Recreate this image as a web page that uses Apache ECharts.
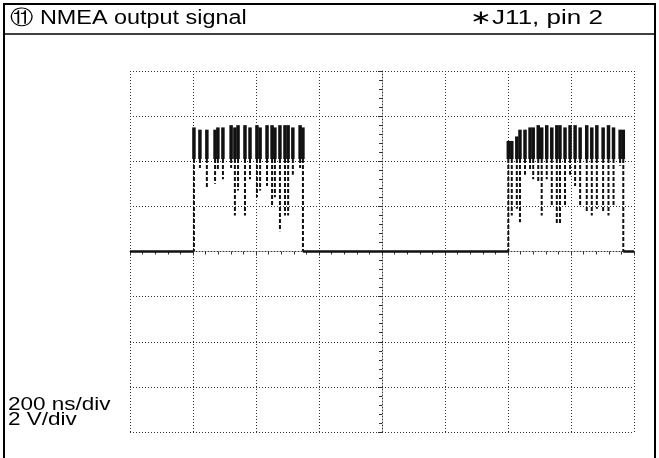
<!DOCTYPE html>
<html>
<head>
<meta charset="utf-8">
<script src="https://cdn.jsdelivr.net/npm/echarts@6/dist/echarts.min.js"></script>
<style>
  html, body { margin: 0; padding: 0; background: #fff; }
  #scope { width: 659px; height: 458px; }
</style>
</head>
<body>
<div id="scope"></div>
<script>
// time in ns (200 ns/div), level in V (2 V/div)
const timeTicks = [0, 200, 400, 600, 800, 1000, 1200, 1400, 1600];
const voltTicks = [-8, -6, -4, -2, 0, 2, 4, 6, 8];

// idle line segments (low level)
const idleTime = [0, 200, null, 549, 1201, null, 1566, 1600];
const idleVolt = [0, 0, null, 0, 0, null, 0, 0];

// first burst: one entry per pulse column
const burst1Time = [203, 222, 244, 270, 279, 295, 321, 333, 343, 365, 381, 403, 413, 435, 451, 460, 476, 492, 502, 517, 540, 549];
const burst1Top  = [5.5, 5.4, 5.4, 5.4, 5.5, 5.5, 5.6, 5.5, 5.6, 5.6, 5.5, 5.6, 5.5, 5.6, 5.6, 5.5, 5.6, 5.6, 5.6, 5.5, 5.6, 5.5];
const burst1Low  = [0, 3.7, 2.8, 3.0, 3.6, 3.2, 3.7, 1.6, 2.7, 1.6, 3.2, 2.4, 2.7, 2.9, 2.0, 2.4, 0.9, 1.6, 1.6, 3.4, 3.7, 0];

// second burst
const burst2Time = [1201, 1212, 1228, 1238, 1254, 1270, 1280, 1296, 1307, 1323, 1339, 1355, 1365, 1381, 1397, 1413, 1429, 1450, 1466, 1482, 1502, 1519, 1535, 1556, 1566];
const burst2Top  = [4.9, 4.9, 5.1, 5.4, 5.4, 5.5, 5.5, 5.6, 5.5, 5.6, 5.5, 5.6, 5.6, 5.5, 5.6, 5.6, 5.5, 5.6, 5.5, 5.6, 5.5, 5.6, 5.5, 5.4, 5.4];
const burst2Low  = [0, 1.6, 1.9, 1.3, 3.4, 3.6, 3.2, 3.1, 1.6, 3.2, 2.0, 1.2, 1.2, 2.0, 3.4, 2.9, 2.0, 1.8, 1.6, 1.9, 1.8, 1.6, 2.0, 3.8, 0];

const denseLevel = 4.1;
const ink = '#111';
const gridInk = '#333';
const headFont = '20px "Liberation Sans", Arial, sans-serif';

function zip3(a, b, c) {
  return a.map((v, i) => [v, b[i], c[i]]);
}
const idleData = idleTime.map((t, i) => t === null ? ['-', '-'] : [t, idleVolt[i]]);
const pulseData = zip3(burst1Time, burst1Top, burst1Low).concat(zip3(burst2Time, burst2Top, burst2Low));

function renderPulse(params, api) {
  const t = api.value(0), top = api.value(1), low = api.value(2);
  const pTop = api.coord([t, top]);
  const pMid = api.coord([t, Math.max(low, Math.min(denseLevel, top))]);
  const pLow = api.coord([t, low]);
  return {
    type: 'group',
    children: [
      { type: 'line', shape: { x1: pTop[0], y1: pTop[1], x2: pMid[0], y2: pMid[1] },
        style: { stroke: ink, lineWidth: 3.5 } },
      { type: 'line', shape: { x1: pMid[0], y1: pMid[1], x2: pLow[0], y2: pLow[1] },
        style: { stroke: ink, lineWidth: 2, lineDash: [4, 2] } }
    ]
  };
}

const dotted = { color: gridInk, width: 1, type: [1, 2] };

let elm = document.getElementById('scope');
let myChart = echarts.init(elm);
myChart.setOption({
  animation: false,
  backgroundColor: '#fff',
  grid: { left: 130, right: 25, top: 71, bottom: 26 },
  xAxis: {
    type: 'value',
    min: timeTicks[0], max: timeTicks[timeTicks.length - 1], interval: 200,
    axisLine: { show: true, onZero: true, lineStyle: dotted },
    axisTick: { show: true, length: 4, lineStyle: { color: gridInk } },
    minorTick: { show: true, splitNumber: 5, length: 3, lineStyle: { color: gridInk } },
    axisLabel: { show: false },
    splitLine: { show: true, lineStyle: dotted }
  },
  yAxis: {
    type: 'value',
    min: voltTicks[0], max: voltTicks[voltTicks.length - 1], interval: 2,
    offset: -252,
    axisLine: { show: true, onZero: false, lineStyle: dotted },
    axisTick: { show: true, length: 4, lineStyle: { color: gridInk } },
    minorTick: { show: true, splitNumber: 5, length: 3, lineStyle: { color: gridInk } },
    axisLabel: { show: false },
    splitLine: { show: true, lineStyle: dotted }
  },
  series: [
    {
      type: 'line',
      data: idleData,
      showSymbol: false,
      connectNulls: false,
      lineStyle: { color: ink, width: 2.5 },
      z: 5
    },
    {
      type: 'custom',
      renderItem: renderPulse,
      data: pulseData,
      encode: { x: 0, y: [1, 2] },
      z: 6
    }
  ],
  graphic: [
    { type: 'rect', shape: { x: 4, y: 4, width: 651, height: 470 },
      style: { fill: 'none', stroke: '#000', lineWidth: 2 } },
    { type: 'line', shape: { x1: 4, y1: 34, x2: 655, y2: 34 },
      style: { stroke: '#000', lineWidth: 1.5 } },
    { type: 'text', x: 10, y: 8, scaleX: 1.17,
      style: { text: '⑪ NMEA output signal', fill: '#000', font: headFont } },
    { type: 'text', x: 470, y: 8, scaleX: 1.3,
      style: { text: '∗J11, pin 2', fill: '#000', font: headFont } },
    { type: 'text', x: 8, y: 398, scaleX: 1.25,
      style: { text: '200 ns/div\n2 V/div', fill: '#000', lineHeight: 15, font: '18px "Liberation Sans", Arial, sans-serif' } }
  ]
});
</script>
</body>
</html>
